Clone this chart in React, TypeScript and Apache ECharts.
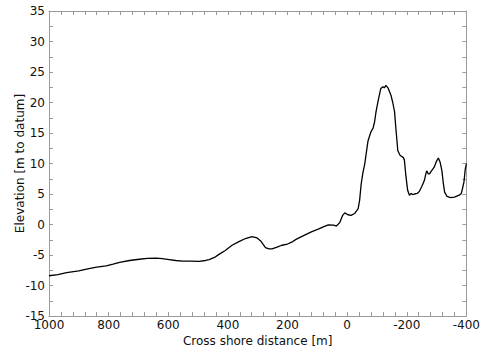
import React, { useEffect, useRef } from "react";
import * as echarts from "echarts";

const distances = [
  1000, 970, 941, 900, 874, 840, 808, 785, 763, 730, 697, 670, 641, 620, 597, 575, 552, 525, 497, 475,
  463, 445, 430, 410, 386, 363, 341, 319, 302, 290, 274, 262, 252, 235, 219, 200, 186, 170, 141, 120,
  97, 80, 63, 45, 36, 25, 15, 8, -3, -13, -25, -37, -42, -47, -53, -59, -65, -70, -80, -87,
  -92, -97, -105, -113, -120, -125, -130, -137, -147, -153, -159, -164, -170, -178, -188, -192, -197, -203, -209, -215,
  -220, -226, -235, -242, -250, -259, -264, -267, -272, -276, -283, -292, -300, -306, -312, -318, -322, -327, -335, -347,
  -360, -376, -383, -387, -392, -396, -400,
];
const elevations = [
  -8.4, -8.2, -7.9, -7.6, -7.3, -7.0, -6.8, -6.5, -6.2, -5.9, -5.7, -5.55, -5.5, -5.6, -5.75, -5.9, -6.0, -6.0, -6.05, -5.9,
  -5.75, -5.4, -4.9, -4.3, -3.4, -2.8, -2.3, -2.0, -2.2, -2.7, -3.8, -4.0, -4.0, -3.7, -3.4, -3.2, -2.9, -2.4, -1.7, -1.2,
  -0.75, -0.4, -0.05, -0.1, -0.25, 0.3, 1.5, 1.9, 1.6, 1.5, 1.8, 2.6, 4.0, 6.6, 8.5, 9.9, 12.0, 13.7, 15.2, 15.8,
  16.8, 18.5, 20.5, 22.3, 22.6, 22.4, 22.8, 22.4, 21.2, 20.0, 18.5, 15.5, 12.1, 11.3, 11.0, 10.6, 8.0, 5.6, 4.8, 5.1,
  4.9, 5.0, 5.1, 5.4, 6.2, 7.2, 8.3, 8.8, 8.3, 8.3, 8.8, 9.4, 10.4, 10.9, 10.2, 8.8, 7.0, 5.3, 4.6, 4.4,
  4.5, 4.8, 5.1, 5.9, 7.0, 9.0, 10.0,
];

const xMin = -400;
const xMax = 1000;
const yMin = -15;
const yMax = 35;

export default function App() {
  const ref = useRef<HTMLDivElement>(null);
  useEffect(() => {
    if (!ref.current) return;
    const chart = echarts.init(ref.current, null, { renderer: "svg" });
    const axisColor = "#9a9a9a";
    const font = "DejaVu Sans";
    const tick = { show: true, inside: true, length: 4, lineStyle: { color: axisColor } };
    const minor = (n: number) => ({ show: true, splitNumber: n, length: 4, lineStyle: { color: axisColor } });
    const line = { show: true, onZero: false, lineStyle: { color: axisColor } };
    const xCommon = {
      type: "value" as const,
      min: xMin,
      max: xMax,
      interval: 200,
      inverse: true,
      axisLine: line,
      axisTick: tick,
      minorTick: minor(5),
      splitLine: { show: false },
    };
    const yCommon = {
      type: "value" as const,
      min: yMin,
      max: yMax,
      interval: 5,
      axisLine: line,
      axisTick: tick,
      minorTick: minor(2),
      splitLine: { show: false },
    };
    chart.setOption({
      animation: false,
      grid: { left: 49, right: 14, top: 11, bottom: 31, containLabel: false },
      xAxis: [
        {
          ...xCommon,
          position: "bottom",
          name: "Cross shore distance [m]",
          nameLocation: "middle",
          nameGap: 19,
          nameMoveOverlap: false,
          nameTextStyle: { color: "#111", fontFamily: font, fontSize: 12 },
          axisLabel: {
            color: "#111",
            fontFamily: font,
            fontSize: 12,
            margin: 3,
            formatter: (v: number) => String(v),
          },
        },
        { ...xCommon, position: "top", axisLabel: { show: false } },
      ],
      yAxis: [
        {
          ...yCommon,
          position: "left",
          name: "Elevation [m to datum]",
          nameLocation: "middle",
          nameGap: 23,
          nameMoveOverlap: false,
          nameTextStyle: { color: "#111", fontFamily: font, fontSize: 12 },
          axisLabel: { color: "#111", fontFamily: font, fontSize: 12, margin: 4 },
        },
        { ...yCommon, position: "right", axisLabel: { show: false } },
      ],
      series: [
        {
          type: "line",
          data: distances.map((d, i) => [d, elevations[i]]),
          showSymbol: false,
          symbol: "none",
          lineStyle: { color: "#000", width: 1.3 },
        },
      ],
    });
    return () => chart.dispose();
  }, []);
  return (
    <div
      ref={ref}
      style={{ position: "fixed", left: 0, top: 0, width: 483, height: 352, background: "#fff" }}
    />
  );
}
